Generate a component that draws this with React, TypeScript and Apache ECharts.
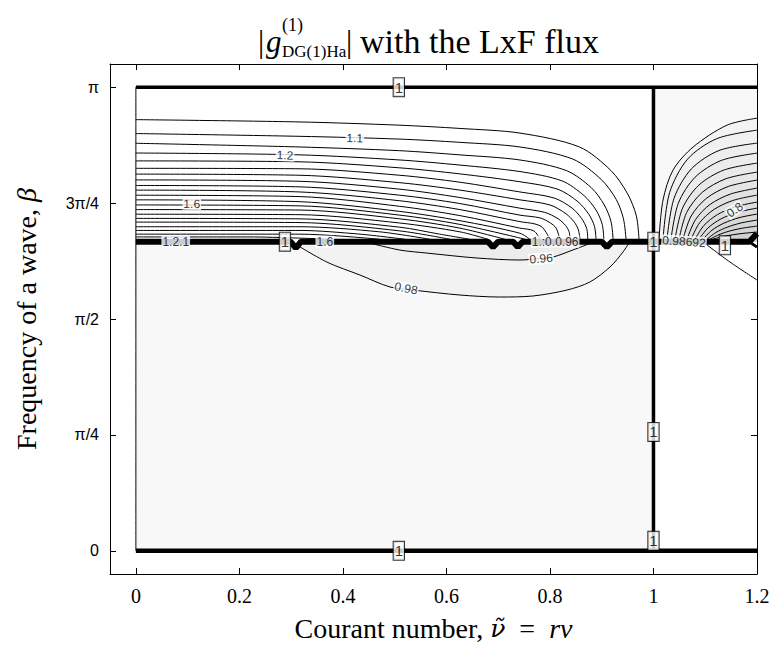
import React, { useEffect, useRef } from "react";
import * as echarts from "echarts";

const SERIF = "Liberation Serif";
const SANS = "Liberation Sans";

// Axes (β is stored as a multiple of π)
const xTickValues = [0, 0.2, 0.4, 0.6, 0.8, 1, 1.2];
const yTickValues = [0, 0.25, 0.5, 0.75, 1];
const yTickLabels = ["0", "π/4", "π/2", "3π/4", "π"];

// Level-1 contour (thick lines)
const levelOneTop = [[0, 1], [1.2, 1]];
const levelOneBottom = [[0, 0], [1.2, 0]];
const levelOneVertical = [[1, 0], [1, 1]];
const levelOneJump = [
  [0, 0.6667], [0.299, 0.6667], [0.309, 0.653], [0.319, 0.6667],
  [0.68, 0.6667], [0.69, 0.6552], [0.7, 0.6667], [0.729, 0.6667], [0.738, 0.6552], [0.747, 0.6667],
  [0.9, 0.6667], [0.91, 0.6552], [0.92, 0.6667], [1.185, 0.6667], [1.2, 0.684],
];
const levelOneTail = [[1.185, 0.6667], [1.2, 0.655]];
const leftEdge = [[0, 0], [0, 1]];

// Contours above the jump, levels 1.05 … 2.05 (x, β/π)
const u1 = [[0, 0.930], [0.317, 0.925], [0.51, 0.918], [0.626, 0.911], [0.742, 0.901], [0.857, 0.871], [0.918, 0.82], [0.95, 0.77], [0.967, 0.722], [0.972, 0.672]];
const u2 = [[0, 0.9], [0.317, 0.894], [0.51, 0.888], [0.626, 0.881], [0.742, 0.871], [0.844, 0.845], [0.899, 0.801], [0.928, 0.758], [0.942, 0.716], [0.947, 0.672]];
const u3 = [[0, 0.879], [0.317, 0.871], [0.51, 0.863], [0.626, 0.854], [0.742, 0.843], [0.832, 0.82], [0.88, 0.783], [0.905, 0.746], [0.918, 0.71], [0.922, 0.672]];
const u4 = [[0, 0.858], [0.317, 0.854], [0.51, 0.843], [0.626, 0.832], [0.742, 0.818], [0.823, 0.798], [0.866, 0.766], [0.889, 0.735], [0.901, 0.704], [0.904, 0.672]];
const u5 = [[0, 0.841], [0.317, 0.839], [0.51, 0.826], [0.626, 0.813], [0.742, 0.796], [0.815, 0.78], [0.854, 0.753], [0.875, 0.726], [0.886, 0.7], [0.889, 0.672]];
const u6 = [[0, 0.825], [0.317, 0.824], [0.51, 0.81], [0.626, 0.795], [0.742, 0.774], [0.808, 0.761], [0.843, 0.739], [0.861, 0.717], [0.871, 0.695], [0.873, 0.672]];
const u7 = [[0, 0.8125], [0.317, 0.81], [0.51, 0.794], [0.626, 0.778], [0.742, 0.757], [0.8, 0.746], [0.831, 0.727], [0.847, 0.709], [0.855, 0.692], [0.858, 0.672]];
const u8 = [[0, 0.8], [0.317, 0.797], [0.51, 0.78], [0.626, 0.762], [0.742, 0.739], [0.79, 0.73], [0.816, 0.716], [0.83, 0.702], [0.837, 0.688], [0.839, 0.672]];
const u9 = [[0, 0.788], [0.317, 0.785], [0.51, 0.767], [0.626, 0.749], [0.742, 0.724], [0.781, 0.718], [0.801, 0.707], [0.812, 0.696], [0.819, 0.672]];
const u10 = [[0, 0.778], [0.317, 0.774], [0.51, 0.755], [0.626, 0.736], [0.742, 0.71], [0.771, 0.705], [0.786, 0.697], [0.8, 0.672]];
const u11 = [[0, 0.767], [0.317, 0.764], [0.51, 0.743], [0.626, 0.723], [0.742, 0.696], [0.769, 0.69], [0.781, 0.672]];
const u12 = [[0, 0.757], [0.317, 0.753], [0.51, 0.732], [0.626, 0.712], [0.742, 0.685], [0.761, 0.672]];
const u13 = [[0, 0.746], [0.317, 0.744], [0.51, 0.724], [0.626, 0.704], [0.752, 0.672]];
const u14 = [[0, 0.736], [0.317, 0.735], [0.51, 0.716], [0.626, 0.696], [0.713, 0.672]];
const u15 = [[0, 0.726], [0.317, 0.725], [0.51, 0.707], [0.626, 0.688], [0.68, 0.672]];
const u16 = [[0, 0.717], [0.317, 0.716], [0.51, 0.698], [0.587, 0.683], [0.645, 0.672]];
const u17 = [[0, 0.709], [0.317, 0.708], [0.51, 0.69], [0.607, 0.672]];
const u18 = [[0, 0.699], [0.317, 0.699], [0.471, 0.688], [0.568, 0.672]];
const u19 = [[0, 0.691], [0.317, 0.691], [0.433, 0.683], [0.52, 0.672]];
const u20 = [[0, 0.683], [0.317, 0.683], [0.394, 0.679], [0.471, 0.672]];
const u21 = [[0, 0.677], [0.22, 0.677], [0.375, 0.672]];
const upperContours = [u1, u2, u3, u4, u5, u6, u7, u8, u9, u10, u11, u12, u13, u14, u15, u16, u17, u18, u19, u20, u21];

// Contours below the jump (0.98, 0.96) and the one at the lower right
const c098 = [[0.3, 0.667], [0.369, 0.6228], [0.433, 0.5948], [0.491, 0.569], [0.535, 0.5625], [0.626, 0.5517], [0.703, 0.5474], [0.767, 0.5496], [0.833, 0.5625], [0.877, 0.5797], [0.916, 0.6121], [0.941, 0.6444], [0.955, 0.6681]];
const c096 = [[0.452, 0.6638], [0.51, 0.6487], [0.562, 0.6422], [0.659, 0.6315], [0.742, 0.6272], [0.781, 0.6304], [0.806, 0.6336], [0.844, 0.6487], [0.885, 0.666]];
const cRightLow = [[1.095, 0.667], [1.1478, 0.6228], [1.2, 0.5841]];

// Fan of contours right of ν̃ = 1 (0.98, 0.96, … towards the corner)
const f1 = [[1.0106, 0.672], [1.0184, 0.7565], [1.0377, 0.8211], [1.0763, 0.8707], [1.142, 0.9181], [1.2, 0.9332]];
const f2 = [[1.0184, 0.672], [1.0311, 0.7724], [1.0657, 0.8446], [1.1219, 0.8888], [1.2, 0.9073]];
const f3 = [[1.0261, 0.672], [1.0396, 0.7599], [1.073, 0.8235], [1.1266, 0.8634], [1.2, 0.8793]];
const f4 = [[1.0338, 0.672], [1.0479, 0.7494], [1.0804, 0.8058], [1.131, 0.842], [1.2, 0.8578]];
const f5 = [[1.0415, 0.672], [1.0562, 0.7392], [1.0875, 0.7886], [1.1355, 0.8211], [1.2, 0.8362]];
const f6 = [[1.0493, 0.672], [1.0643, 0.7302], [1.0945, 0.7735], [1.1397, 0.8024], [1.2, 0.8168]];
const f7 = [[1.057, 0.672], [1.0728, 0.7222], [1.102, 0.7601], [1.1444, 0.7858], [1.2, 0.7996]];
const f8 = [[1.0647, 0.672], [1.0814, 0.7147], [1.1094, 0.7472], [1.149, 0.7696], [1.2, 0.7823]];
const f9 = [[1.0725, 0.672], [1.0895, 0.7082], [1.1165, 0.736], [1.1532, 0.7556], [1.2, 0.7672]];
const f10 = [[1.0802, 0.672], [1.0976, 0.7019], [1.1233, 0.725], [1.1575, 0.7418], [1.2, 0.7522]];
const f11 = [[1.0879, 0.672], [1.1055, 0.6966], [1.13, 0.7157], [1.1616, 0.73], [1.2, 0.7392]];
const f12 = [[1.0957, 0.672], [1.113, 0.6916], [1.1364, 0.7069], [1.1652, 0.7185], [1.2, 0.7263]];
const f13 = [[1.1034, 0.672], [1.1206, 0.6866], [1.1426, 0.6981], [1.1689, 0.7071], [1.2, 0.7134]];
const f14 = [[1.1092, 0.672], [1.1264, 0.6819], [1.1474, 0.6899], [1.1718, 0.6959], [1.2, 0.7004]];
const f15 = [[1.115, 0.672], [1.1322, 0.6774], [1.1521, 0.6815], [1.1747, 0.6849], [1.2, 0.6875]];
const fanContours = [f1, f2, f3, f4, f5, f6, f7, f8, f9, f10, f11, f12, f13, f14, f15];

// Filled regions (values below 1)
const regionLowerLeft = [[0, 0], [1, 0], [1, 0.6667], [0, 0.6667]];
const regionUpperRight = [[1, 0.6667], [1.2, 0.6667], [1.2, 1], [1, 1]];
const cornerPoint = [1.2, 0.6667];

// Contour labels: [x, β/π, text]
const boxedLabels = [
  [0.508, 1, "1"], [0.288, 0.6667, "1"], [1, 0.6667, "1"], [1, 0.2565, "1"],
  [1, 0.0216, "1"], [0.508, 0, "1"], [1.138, 0.659, "1"],
];
const plainLabels = [
  [0.423, 0.89, "1.1"], [0.288, 0.853, "1.2"], [0.108, 0.748, "1.6"],
  [0.077, 0.6667, "1.2.1"], [0.365, 0.6667, "1.6"], [0.81, 0.6667, "1.:0.0.96"],
  [0.522, 0.566, "0.98"], [0.783, 0.63, "0.96"], [1.059, 0.6667, "0.98692"], [1.157, 0.735, "0.8"],
];
const plainLabelRotation = [-2, -2, -1, 0, 0, 0, -12, 4, -4, 35];

function grey(v: number) {
  const h = Math.round(v).toString(16).padStart(2, "0");
  return "#" + h + h + h;
}

export default function App() {
  const ref = useRef<HTMLDivElement>(null);
  useEffect(() => {
    const chart = echarts.init(ref.current!, null, { renderer: "svg" });

    const fills: { pts: number[][]; color: string }[] = [
      { pts: regionLowerLeft, color: grey(248) },
      { pts: c098, color: grey(242) },
      { pts: c096, color: grey(236) },
      { pts: regionUpperRight, color: grey(248) },
      ...fanContours.map((c, i) => ({ pts: [...c, cornerPoint], color: grey(243 - i * 2.4) })),
    ];

    const thin = (data: number[][]) => ({
      type: "line", data, smooth: 0.3, symbol: "none", silent: true, z: 3,
      lineStyle: { color: "#000", width: 1 }, itemStyle: { color: "#000" },
    });
    const thick = (data: number[][], width: number) => ({
      type: "line", data, smooth: false, symbol: "none", silent: true, z: 4,
      lineStyle: { color: "#000", width }, itemStyle: { color: "#000" },
    });

    const axisCommon = {
      type: "value",
      axisLine: { show: true, onZero: false, lineStyle: { color: "#000", width: 1 } },
      splitLine: { show: false },
    };
    const nameRich = {
      i: { fontFamily: SERIF, fontSize: 28, fontStyle: "italic", color: "#000" },
      t: { fontFamily: "DejaVu Serif", fontSize: 25, fontStyle: "italic", color: "#000" },
    };

    const txt = (x: number, y: number, text: string, size: number, italic = false) => ({
      type: "text", x, y, silent: true,
      style: {
        text, fill: "#000",
        font: `${italic ? "italic " : ""}${size}px "${SERIF}"`,
        textVerticalAlign: "middle",
      },
    });

    const labelSeries = (items: any[], labelStyle: any) => ({
      type: "scatter", symbol: "circle", symbolSize: 0, silent: true, z: 6,
      itemStyle: { color: "#000" },
      label: {
        show: true, position: "inside", color: "#000",
        textBorderWidth: 0, textBorderColor: "#fff", ...labelStyle,
      },
      data: items,
    });

    const option: any = {
      animation: false,
      backgroundColor: "#fff",
      grid: { left: 110, right: 16, top: 64, bottom: 76, containLabel: false },
      xAxis: [
        {
          ...axisCommon, min: -0.05, max: 1.2, position: "bottom",
          axisTick: { show: true, inside: true, length: 6, customValues: xTickValues, lineStyle: { color: "#000" } },
          axisLabel: { customValues: xTickValues, color: "#000", fontFamily: SERIF, fontSize: 20, margin: 12 },
          name: "Courant number, {t|ν̃}  =  {i|rν}",
          nameLocation: "middle", nameGap: 40,
          nameTextStyle: { color: "#000", fontFamily: SERIF, fontSize: 28, rich: nameRich },
        },
        {
          ...axisCommon, min: -0.05, max: 1.2, position: "top",
          axisTick: { show: true, inside: true, length: 6, customValues: xTickValues, lineStyle: { color: "#000" } },
          axisLabel: { show: false },
        },
      ],
      yAxis: [
        {
          ...axisCommon, min: -0.05, max: 1.05, position: "left",
          axisTick: { show: true, inside: true, length: 6, customValues: yTickValues, lineStyle: { color: "#000" } },
          axisLabel: {
            customValues: yTickValues, color: "#000", fontFamily: SANS, fontSize: 16, margin: 11,
            formatter: (v: number) => { const i = yTickValues.indexOf(v); return i >= 0 ? yTickLabels[i] : ""; },
          },
          name: "Frequency of a wave, {i|β}",
          nameLocation: "middle", nameGap: 70, nameRotate: 90,
          nameTextStyle: { color: "#000", fontFamily: SERIF, fontSize: 28, rich: nameRich },
        },
        {
          ...axisCommon, min: -0.05, max: 1.05, position: "right",
          axisTick: { show: true, inside: true, length: 6, customValues: yTickValues, lineStyle: { color: "#000" } },
          axisLabel: { show: false },
        },
      ],
      graphic: [
        txt(258, 41, "|", 31),
        txt(266, 41, "g", 31, true),
        txt(282, 25, "(1)", 18),
        txt(282, 51, "DG(1)Ha", 17),
        txt(346, 41, "|", 31),
        txt(360, 41, "with the LxF flux", 34),
      ],
      series: [
        {
          type: "custom", silent: true, z: 1, clip: true,
          data: fills.map((f) => f.pts[0]),
          renderItem: (params: any, api: any) => {
            const f = fills[params.dataIndex];
            return { type: "polygon", shape: { points: f.pts.map((p) => api.coord(p)) }, style: { fill: f.color, stroke: null } };
          },
        },
        thin(leftEdge),
        ...upperContours.map(thin),
        thin(c098), thin(c096), thin(cRightLow),
        ...fanContours.map(thin),
        thick(levelOneTop, 3.5),
        thick(levelOneBottom, 4.5),
        thick(levelOneVertical, 3.5),
        thick(levelOneJump, 6),
        thick(levelOneTail, 3),
        labelSeries(
          boxedLabels.map((l) => ({ value: [l[0], l[1]], name: String(l[2]) })),
          {
            formatter: (p: any) => p.name, fontFamily: SANS, fontSize: 15,
            backgroundColor: "#fff", borderColor: "#000", borderWidth: 1, padding: [2, 1, 0, 1], lineHeight: 16,
          },
        ),
        labelSeries(
          plainLabels.map((l, i) => ({ value: [l[0], l[1]], name: String(l[2]), label: { rotate: plainLabelRotation[i] } })),
          { formatter: (p: any) => p.name, fontFamily: SANS, fontSize: 12, backgroundColor: "#fff", padding: [0, 1] },
        ),
      ],
    };

    chart.setOption(option);
    return () => chart.dispose();
  }, []);
  return <div ref={ref} style={{ position: "fixed", left: 0, top: 0, width: 773, height: 650, background: "#fff" }} />;
}
